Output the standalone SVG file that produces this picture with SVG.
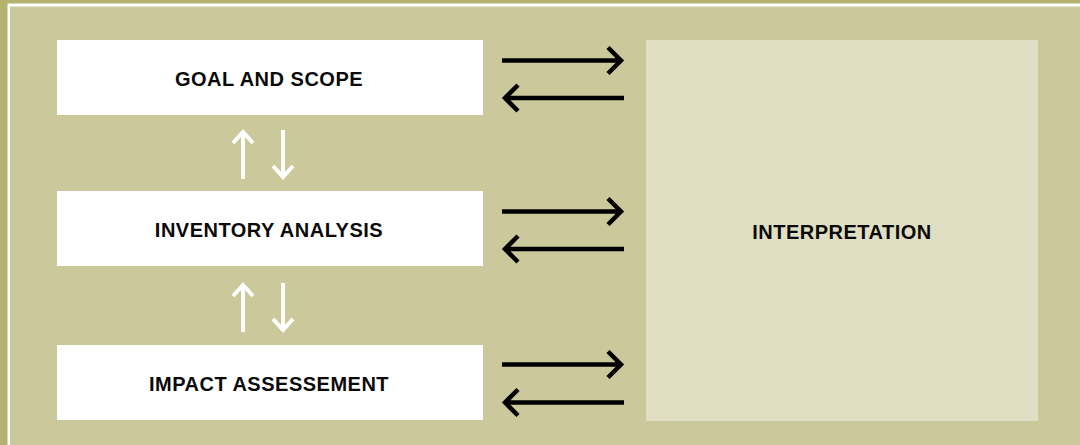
<svg xmlns="http://www.w3.org/2000/svg" width="1080" height="445" viewBox="0 0 1080 445">
  <defs>
    <style>
      .box { fill: #ffffff; }
      .label { font-family: "Liberation Sans", Arial, sans-serif; font-weight: bold; font-size: 20px; fill: #0a0a0a; text-anchor: middle; letter-spacing: 0.5px; }
      .blk { fill: none; stroke: #000000; stroke-width: 4.5; stroke-linecap: butt; stroke-linejoin: miter; }
      .wht { fill: none; stroke: #ffffff; stroke-width: 4; stroke-linecap: butt; stroke-linejoin: miter; }
    </style>
  </defs>
  <rect x="0" y="0" width="1080" height="445" fill="#b5b26f"/>
  <rect x="7.5" y="3.5" width="1072.5" height="441.5" fill="#ffffff"/>
  <rect x="10" y="6.5" width="1070" height="438.5" fill="#cbc99b"/>

  <g id="goal-and-scope">
    <rect class="box" x="57" y="40" width="426" height="75"/>
    <text class="label" x="269" y="86">GOAL AND SCOPE</text>
  </g>
  <g id="inventory-analysis">
    <rect class="box" x="57" y="191" width="426" height="75"/>
    <text class="label" x="269" y="237">INVENTORY ANALYSIS</text>
  </g>
  <g id="impact-assessement">
    <rect class="box" x="57" y="345" width="426" height="75"/>
    <text class="label" x="269" y="391">IMPACT ASSESSEMENT</text>
  </g>
  <g id="interpretation">
    <rect x="646" y="40" width="392" height="381" fill="#e0dfc4"/>
    <text class="label" x="842" y="239">INTERPRETATION</text>
  </g>

  <g id="connectors">
    <path class="blk" d="M502 60.5 H622 M608 47.5 L621 60.5 L608 73.5"/>
    <path class="blk" d="M624 98 H504 M518 85 L505 98 L518 111"/>
    <path class="blk" d="M502 211.5 H622 M608 198.5 L621 211.5 L608 224.5"/>
    <path class="blk" d="M624 249 H504 M518 236 L505 249 L518 262"/>
    <path class="blk" d="M502 364.5 H622 M608 351.5 L621 364.5 L608 377.5"/>
    <path class="blk" d="M624 402.5 H504 M518 389.5 L505 402.5 L518 415.5"/>
    <path class="wht" d="M243 179 V133 M233 143 L243 132 L253 143"/>
    <path class="wht" d="M283 130 V176 M273 166 L283 177 L293 166"/>
    <path class="wht" d="M243 332 V286 M233 296 L243 285 L253 296"/>
    <path class="wht" d="M283 283 V329 M273 319 L283 330 L293 319"/>
  </g>
</svg>
